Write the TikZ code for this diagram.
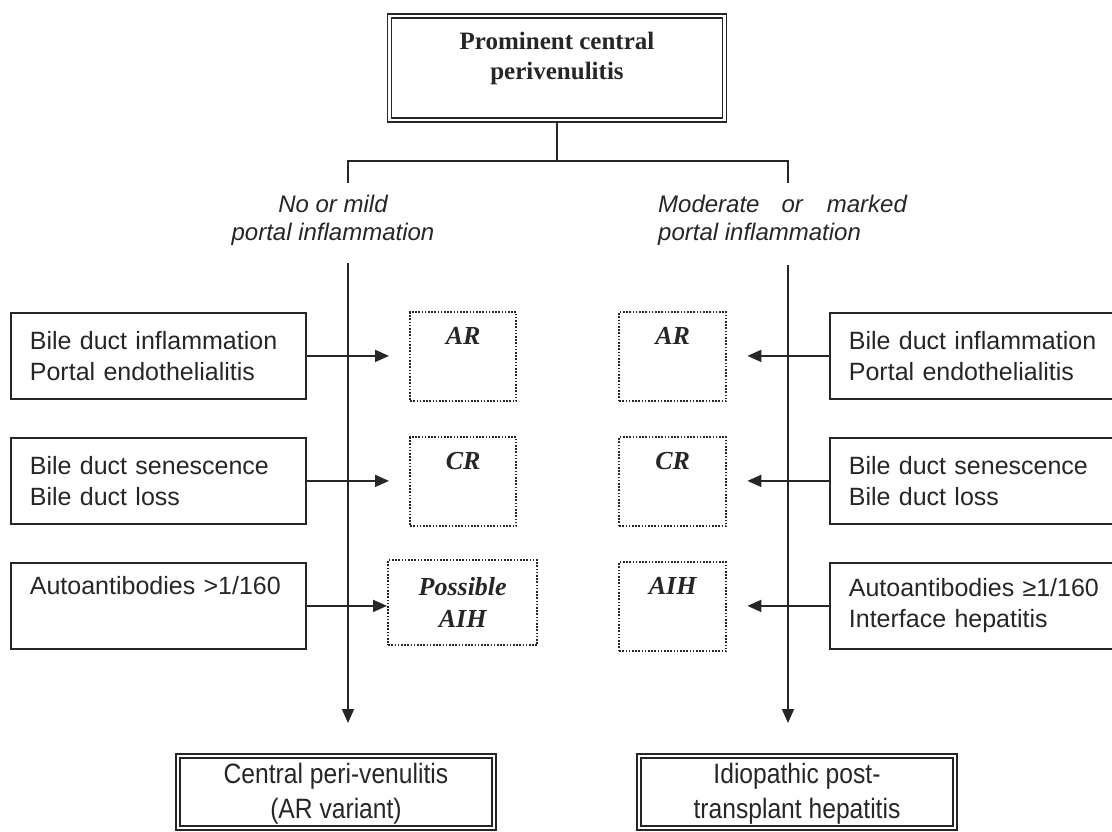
\documentclass[tikz,border=0pt]{standalone}
\usepackage{fontspec}
\setmainfont{Liberation Serif}
\setsansfont{Liberation Sans}
\newfontfamily\narrowsans[FakeStretch=0.88]{Liberation Sans}
\usetikzlibrary{arrows.meta}
\definecolor{ink}{HTML}{262626}
\begin{document}
\begin{tikzpicture}[x=1pt,y=-1pt,
  every node/.style={text=ink},
  ln/.style={draw=ink, line width=1.8pt},
  arr/.style={ln, -{Triangle[length=14pt,width=12pt]}},
  infobox/.style={draw=ink, line width=1.8pt, anchor=north west, minimum height=86pt,
    inner xsep=19pt, inner ysep=0pt, align=left, font=\sffamily\fontsize{25}{31}\selectfont},
  dotbox/.style={draw=ink, line width=2.4pt, dash pattern=on 1.6pt off 1.6pt, anchor=north west,
    minimum height=89pt, align=center, inner sep=0pt, font=\bfseries\itshape\fontsize{26}{32}\selectfont},
  dblbox/.style={draw=ink, double, double distance=2.4pt, line width=1.6pt, align=center},
  endbox/.style={dblbox, minimum width=316pt, minimum height=72pt, anchor=north, inner ysep=0pt,
    font=\narrowsans\fontsize{28}{35}\selectfont},
  lbl/.style={font=\sffamily\itshape\fontsize{24}{28}\selectfont, inner sep=0pt}
]
\useasboundingbox (0,0) rectangle (1112,831);

% top box
\node[dblbox, minimum width=335pt, minimum height=104pt, anchor=north,
  font=\bfseries\fontsize{25}{30}\selectfont] (top) at (557,15)
  {Prominent central\\perivenulitis\\[-16pt]\strut};

\coordinate (hl) at (348,161);
\coordinate (hr) at (788,161);
\coordinate (tl) at (348,183);
\coordinate (tr) at (788,183);
\draw[ln] (top.south) -- (top.south |- hl);
\draw[ln] (tl) -- (hl) -- (hr) -- (tr);

% branch labels
\node[lbl, align=center] (ml) at (333,220) {No or mild\\portal inflammation};
\node[lbl, align=left, anchor=west] (mr) at (658,220)
  {Moderate\hspace{22pt}or\hspace{24pt}marked\\portal inflammation};

% left criteria boxes
\node[infobox, text width=257pt] (l1) at (10,312) {Bile duct inflammation\\Portal endothelialitis};
\node[infobox, text width=257pt] (l2) at (10,437) {Bile duct senescence\\Bile duct loss};
\node[infobox, text width=257pt] (l3) at (10,562) {Autoantibodies >1/160\\\strut};

% right criteria boxes
\node[infobox, text width=252pt] (r1) at (829,312) {Bile duct inflammation\\Portal endothelialitis};
\node[infobox, text width=252pt] (r2) at (829,437) {Bile duct senescence\\Bile duct loss};
\node[infobox, text width=252pt] (r3) at (829,562) {Autoantibodies ≥1/160\\Interface hepatitis};

% dotted diagnosis boxes
\node[dotbox, minimum width=106pt] (d1) at (409,311) {AR\\\strut};
\node[dotbox, minimum width=106pt] (d2) at (409,436) {CR\\\strut};
\node[dotbox, minimum width=149pt, minimum height=85pt] (d3) at (387,559) {Possible\\AIH};
\node[dotbox, minimum width=107pt] (d4) at (618,311) {AR\\\strut};
\node[dotbox, minimum width=107pt] (d5) at (618,436) {CR\\\strut};
\node[dotbox, minimum width=107pt] (d6) at (618,561) {AIH\\\strut};

% bottom boxes
\node[endbox] (bl) at (336,755) {\rule{0pt}{24pt}Central peri-venulitis\\(AR variant)};
\node[endbox] (br) at (797,755) {\rule{0pt}{24pt}Idiopathic post-\\transplant hepatitis};

% vertical main arrows
\coordinate (vl) at (348,263);
\coordinate (vr) at (788,265);
\draw[arr, shorten >=32pt] (vl) -- (vl |- bl.north);
\draw[arr, shorten >=32pt] (vr) -- (vr |- br.north);

% horizontal arrows
\draw[arr, shorten >=20pt] (l1.east) -- (l1.east -| d1.west);
\draw[arr, shorten >=20pt] (l2.east) -- (l2.east -| d2.west);
\draw[arr] (l3.east) -- (l3.east -| d3.west);
\draw[arr, shorten >=20pt] (r1.west) -- (r1.west -| d4.east);
\draw[arr, shorten >=20pt] (r2.west) -- (r2.west -| d5.east);
\draw[arr, shorten >=20pt] (r3.west) -- (r3.west -| d6.east);
\end{tikzpicture}
\end{document}
